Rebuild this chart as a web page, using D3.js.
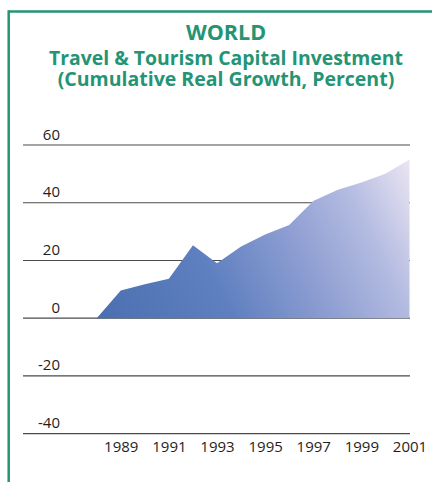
<!DOCTYPE html>
<html>
<head>
<meta charset="utf-8">
<script src="https://cdn.jsdelivr.net/npm/d3@7"></script>
<style>
  html, body { margin: 0; padding: 0; background: #ffffff; }
  svg { display: block; }
</style>
</head>
<body>
<svg id="chart" width="432" height="482"></svg>
<script>
// Cumulative real growth of world travel & tourism capital investment (%)
const years = [1988, 1989, 1990, 1991, 1992, 1993, 1994, 1995, 1996, 1997, 1998, 1999, 2000, 2001];
const growth = [0, 9.6, 11.8, 13.7, 25.3, 19.0, 24.8, 29.0, 32.3, 40.6, 44.4, 47.0, 50.0, 55.0];
const yTicks = [60, 40, 20, 0, -20, -40];
const xTicks = [1989, 1991, 1993, 1995, 1997, 1999, 2001];
const titleLines = ["WORLD", "Travel & Tourism Capital Investment", "(Cumulative Real Growth, Percent)"];

const svg = d3.select("#chart");
const green = "#249474";
const fontFamily = "'Open Sans', sans-serif";

const x = d3.scaleLinear().domain([1988, 2001]).range([96.7, 409.5]);
const y = d3.scaleLinear().domain([-40, 60]).range([433.7, 145]);

// frame: top and left rules
svg.append("line").attr("x1", 8.7).attr("x2", 432).attr("y1", 11.5).attr("y2", 11.5)
  .attr("stroke", green).attr("stroke-width", 2.5);
svg.append("line").attr("x1", 8.7).attr("x2", 8.7).attr("y1", 10.3).attr("y2", 482)
  .attr("stroke", green).attr("stroke-width", 2.5);

// title block: one text element, one tspan per line
const titleSpec = [
  { size: 21.5, y: 40 },
  { size: 19.4, y: 64.5 },
  { size: 19.5, y: 86 }
];
svg.append("text")
  .attr("text-anchor", "middle")
  .attr("font-family", fontFamily)
  .attr("font-weight", 700)
  .attr("fill", green)
  .selectAll("tspan").data(titleLines).join("tspan")
  .attr("x", 226)
  .attr("y", (d, i) => titleSpec[i].y)
  .attr("font-size", (d, i) => titleSpec[i].size)
  .text(d => d);

// horizontal grid rules with labels (drawn beneath the area)
const gy = svg.append("g");
gy.selectAll("line").data(yTicks).join("line")
  .attr("x1", 23).attr("x2", 410)
  .attr("y1", d => y(d)).attr("y2", d => y(d))
  .attr("stroke", "#4a4a4a").attr("stroke-width", 1.2);
gy.selectAll("text").data(yTicks).join("text")
  .attr("x", 60)
  .attr("y", d => y(d) - 5.5)
  .attr("text-anchor", "end")
  .attr("font-family", fontFamily)
  .attr("font-size", 15)
  .attr("fill", "#1e1e1e")
  .text(d => String(d));

// gradient fill for the area
const defs = svg.append("defs");
const grad = defs.append("linearGradient").attr("id", "areaFill")
  .attr("gradientUnits", "userSpaceOnUse")
  .attr("x1", x(1988)).attr("y1", y(0))
  .attr("x2", x(2001)).attr("y2", y(55));
[[0, "#4a6fb0"], [0.35, "#5f80c0"], [0.6, "#8e9ed2"], [0.8, "#b3bbe1"], [1, "#ebe5f2"]]
  .forEach(([o, c]) => grad.append("stop").attr("offset", o).attr("stop-color", c));

const data = years.map((yr, i) => ({ yr, v: growth[i] }));
svg.append("path")
  .datum(data)
  .attr("fill", "url(#areaFill)")
  .attr("d", d3.area().x(d => x(d.yr)).y0(y(0)).y1(d => y(d.v)));

// year labels
const xAxis = d3.axisBottom(x).tickValues(xTicks).tickSize(0).tickFormat(d => String(d));
svg.append("g")
  .attr("transform", `translate(0,${y(-40)})`)
  .call(xAxis)
  .call(g => g.select(".domain").remove())
  .call(g => g.selectAll("text")
    .attr("y", 8)
    .attr("font-family", fontFamily)
    .attr("font-size", 15)
    .attr("fill", "#1e1e1e"));
</script>
</body>
</html>
